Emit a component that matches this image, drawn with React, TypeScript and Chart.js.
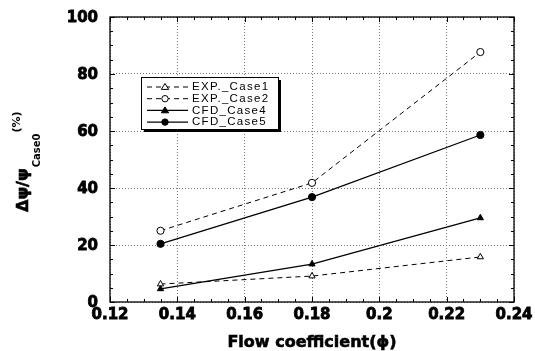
import React, { useEffect, useRef } from "react";
import { Chart, registerables } from "chart.js";

Chart.register(...registerables);

const flowCoeff = [0.135, 0.18, 0.23];
const expCase1 = [6.3, 9.1, 15.8];
const expCase2 = [25, 41.8, 87.7];
const cfdCase4 = [4.6, 13.3, 29.5];
const cfdCase5 = [20.4, 36.8, 58.6];
const xTickLabels = ["0.12", "0.14", "0.16", "0.18", "0.2", "0.22", "0.24"];
const yTickLabels = ["0", "20", "40", "60", "80", "100"];
const seriesNames = ["EXP._Case1", "EXP._Case2", "CFD_Case4", "CFD_Case5"];

const pts = (ys: number[]) => flowCoeff.map((x, i) => ({ x, y: ys[i] }));

const BOLD = "'DejaVu Sans', sans-serif";

function drawMarker(ctx: CanvasRenderingContext2D, style: string, x: number, y: number, r: number, fill: string) {
  ctx.save();
  ctx.lineWidth = 1;
  ctx.strokeStyle = "#000";
  ctx.fillStyle = fill;
  ctx.beginPath();
  if (style === "triangle") {
    ctx.moveTo(x, y - r * 1.1);
    ctx.lineTo(x + r * 1.15, y + r * 0.75);
    ctx.lineTo(x - r * 1.15, y + r * 0.75);
    ctx.closePath();
  } else {
    ctx.arc(x, y, r, 0, Math.PI * 2);
  }
  ctx.fill();
  ctx.stroke();
  ctx.restore();
}

function heavyText(ctx: CanvasRenderingContext2D, t: string, x: number, y: number, w = 0.8) {
  ctx.fillText(t, x, y);
  ctx.lineWidth = w;
  ctx.strokeStyle = "#000";
  ctx.strokeText(t, x, y);
}

const framePlugin = {
  id: "frame",
  afterDraw(chart: any) {
    const { ctx, chartArea: a, scales } = chart;
    const xs = scales.x;
    const ys = scales.y;
    ctx.save();
    ctx.strokeStyle = "#000";
    ctx.lineWidth = 1.3;
    ctx.strokeRect(a.left, a.top, a.right - a.left, a.bottom - a.top);
    ctx.lineWidth = 1;
    for (let k = 0; k <= 24; k++) {
      const v = 0.12 + k * 0.005;
      const px = Math.round(xs.getPixelForValue(v)) + 0.5;
      const len = k % 4 === 0 ? 5 : 3;
      ctx.beginPath();
      ctx.moveTo(px, a.bottom);
      ctx.lineTo(px, a.bottom - len);
      ctx.moveTo(px, a.top);
      ctx.lineTo(px, a.top + len);
      ctx.stroke();
    }
    for (let k = 0; k <= 20; k++) {
      const v = k * 5;
      const py = Math.round(ys.getPixelForValue(v)) + 0.5;
      const len = k % 4 === 0 ? 5 : 3;
      ctx.beginPath();
      ctx.moveTo(a.left, py);
      ctx.lineTo(a.left + len, py);
      ctx.moveTo(a.right, py);
      ctx.lineTo(a.right - len, py);
      ctx.stroke();
    }

    // tick labels
    ctx.fillStyle = "#000";
    ctx.font = `bold 15px ${BOLD}`;
    ctx.textAlign = "right";
    ctx.textBaseline = "middle";
    yTickLabels.forEach((t, i) => {
      heavyText(ctx, t, a.left - 12, ys.getPixelForValue(i * 20) + 1);
    });
    ctx.textAlign = "center";
    ctx.textBaseline = "top";
    xTickLabels.forEach((t, i) => {
      heavyText(ctx, t, xs.getPixelForValue(0.12 + i * 0.02), a.bottom + 6);
    });

    // legend
    const lx = 141, ly = 77, lw = 137, lh = 52;
    ctx.fillStyle = "#000";
    ctx.fillRect(lx + 3, ly + 3, lw, lh);
    ctx.fillStyle = "#fff";
    ctx.fillRect(lx, ly, lw, lh);
    ctx.strokeStyle = "#000";
    ctx.lineWidth = 1;
    ctx.strokeRect(lx + 0.5, ly + 0.5, lw, lh);
    const ds = chart.data.datasets;
    ctx.font = "11.5px 'Liberation Sans', Arial, sans-serif";
    (ctx as any).letterSpacing = "1.3px";
    ctx.textBaseline = "middle";
    ctx.textAlign = "left";
    for (let i = 0; i < 4; i++) {
      const ry = 87 + i * 11.7;
      const d = ds[i];
      ctx.strokeStyle = "#000";
      ctx.lineWidth = d.borderWidth;
      ctx.setLineDash(d.borderDash || []);
      ctx.beginPath();
      ctx.moveTo(147, ry);
      ctx.lineTo(188, ry);
      ctx.stroke();
      ctx.setLineDash([]);
      drawMarker(ctx, d.pointStyle, 165, ry, 3.2, d.pointBackgroundColor);
      ctx.fillStyle = "#000";
      ctx.fillText(seriesNames[i], 192, ry);
    }
    (ctx as any).letterSpacing = "0px";

    // x title
    ctx.font = `bold 16px ${BOLD}`;
    ctx.textAlign = "center";
    ctx.textBaseline = "alphabetic";
    ctx.fillStyle = "#000";
    heavyText(ctx, "Flow coefficient(\u03D5)", (a.left + a.right) / 2, 347, 0.6);

    // y title
    ctx.save();
    ctx.rotate(-Math.PI / 2);
    ctx.textAlign = "left";
    const startX = -212;
    ctx.font = `bold 16px ${BOLD}`;
    const main = "\u0394\u03C8/\u03C8";
    heavyText(ctx, main, startX, 28, 0.6);
    const w1 = ctx.measureText(main).width;
    ctx.font = `bold 10px ${BOLD}`;
    const sub = "Case0";
    ctx.fillText(sub, startX + w1 + 1, 40);
    const w2 = ctx.measureText(sub).width;
    ctx.font = `bold 11px ${BOLD}`;
    ctx.fillText("(%)", startX + w1 + w2 + 2, 20);
    ctx.restore();
    ctx.restore();
  },
};

export default function App() {
  const ref = useRef<HTMLCanvasElement>(null);
  useEffect(() => {
    document.body.style.margin = "0";
    const mk = (i: number, ys: number[], dashed: boolean, style: string, fill: string) => ({
      label: seriesNames[i],
      data: pts(ys),
      borderColor: "#000",
      borderWidth: dashed ? 1 : 1.3,
      borderDash: dashed ? [5, 4] : [],
      pointStyle: style,
      pointRadius: 3.6,
      pointBorderWidth: 1,
      pointBorderColor: "#000",
      pointBackgroundColor: fill,
      fill: false,
      tension: 0,
    });
    const chart = new Chart(ref.current!, {
      type: "line",
      data: {
        datasets: [
          mk(0, expCase1, true, "triangle", "#fff"),
          mk(1, expCase2, true, "circle", "#fff"),
          mk(2, cfdCase4, false, "triangle", "#000"),
          mk(3, cfdCase5, false, "circle", "#000"),
        ],
      },
      options: {
        animation: false,
        responsive: false,
        layout: { padding: { top: 17, right: 21, left: 110, bottom: 49 } },
        plugins: { legend: { display: false }, tooltip: { enabled: false } },
        scales: {
          x: {
            type: "linear",
            min: 0.12,
            max: 0.24,
            ticks: { stepSize: 0.02, display: false },
            grid: { color: "#777", lineWidth: 1, drawTicks: false },
            border: { display: false, dash: [1, 2] },
          },
          y: {
            min: 0,
            max: 100,
            ticks: { stepSize: 20, display: false },
            grid: { color: "#777", lineWidth: 1, drawTicks: false },
            border: { display: false, dash: [1, 2] },
          },
        },
      },
      plugins: [framePlugin],
    } as any);
    return () => chart.destroy();
  }, []);
  return (
    <div style={{ width: 535, height: 351 }}>
      <canvas ref={ref} width={535} height={351} style={{ display: "block", background: "#fff" }} />
    </div>
  );
}
